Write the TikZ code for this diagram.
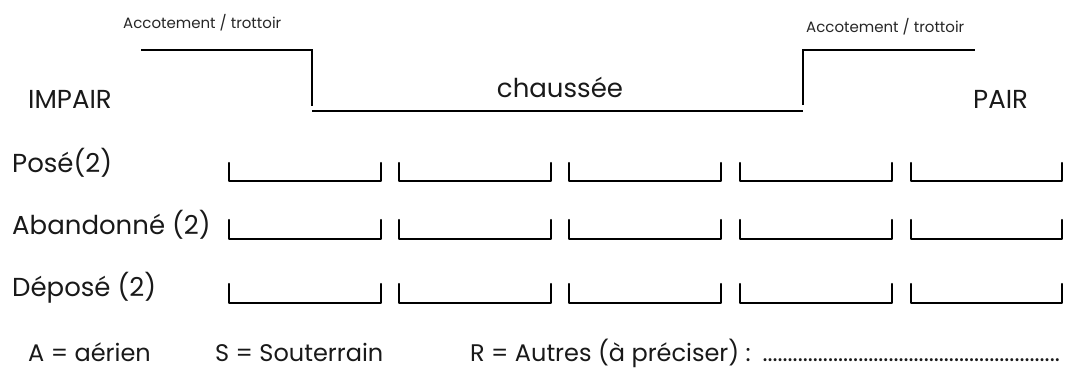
\documentclass[tikz,border=0pt]{standalone}
\usepackage{fontspec}
\setmainfont{Poppins}
\begin{document}
\begin{tikzpicture}[x=1pt,y=-1pt,
  curb/.style={line width=2.6pt,line join=miter},
  slot/.style={line width=2.4pt,line cap=round,line join=round},
  big/.style={font=\fontsize{26}{30}\selectfont\color{black!90}},
  small/.style={font=\fontsize{15}{18}\selectfont\color{black!85}},
  lab/.style={big,anchor=west,inner sep=0pt},
  leg/.style={font=\fontsize{24}{28}\selectfont\color{black!90},anchor=base west,inner sep=0pt}]
\useasboundingbox (0,0) rectangle (1065,369);
% top labels
\node[small,anchor=west,inner sep=0pt] (accL) at (123,23) {Accotement / trottoir};
\node[small,anchor=west,inner sep=0pt] (accR) at (806,27) {Accotement / trottoir};
% road profile
\coordinate (l1) at (141,50);
\coordinate (l2) at (312,50);
\coordinate (l3) at (312,106);
\coordinate (b1) at (312,111);
\coordinate (b2) at (803,111);
\coordinate (r1) at (803,105);
\coordinate (r2) at (803,50);
\coordinate (r3) at (975,50);
\draw[curb] (l1) -- (l2) -- (l3);
\draw[curb] (b1) -- (b2);
\draw[curb] (r1) -- (r2) -- (r3);
\node[big,inner sep=0pt] (ch) at (560,87) {chaussée};
\node[lab] (imp) at (28,99) {IMPAIR};
\node[lab] (pair) at (973,99) {PAIR};
% rows
\node[lab] (pose) at (12,163) {Posé(2)};
\node[lab] (aban) at (12,225) {Abandonné (2)};
\node[lab] (depo) at (12,288) {Déposé (2)};
\foreach \r/\t/\b in {1/163/181,2/220/239,3/284/303}{
  \foreach \a/\e in {229/381,399/551,569/721,740/892,911/1062}{
    \coordinate (s\r a\a) at (\a,\t);
    \coordinate (s\r b\a) at (\a,\b);
    \coordinate (s\r c\a) at (\e,\b);
    \coordinate (s\r d\a) at (\e,\t);
    \draw[slot] (s\r a\a) -- (s\r b\a) -- (s\r c\a) -- (s\r d\a);
  }
}
% legend
\node[leg] (la) at (28,361) {A = aérien};
\node[leg] (ls) at (215,361) {S = Souterrain};
\node[leg] (lr) at (470,361) {\makebox[593pt][l]{R = Autres (à préciser) : \leaders\hbox{.}\hfill}};
\end{tikzpicture}
\end{document}
